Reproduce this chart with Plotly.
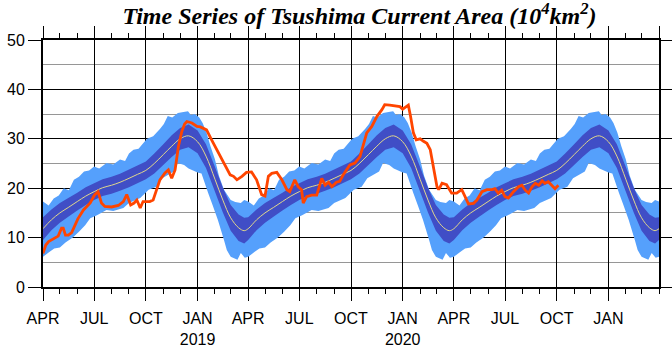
import pandas as pd
import plotly.graph_objects as go

# ---------------- data ----------------
# climatology (offset in days from 1 April), repeated each season
clim_days = [0, 15, 30, 45, 61, 76, 91, 106, 122, 137, 153, 168, 183, 198, 214, 229, 244, 259, 275, 290, 306, 320, 334, 348, 358, 365]
clim_mean = [11.8, 13.6, 15.0, 16.1, 17.3, 18.4, 19.3, 20.1, 20.6, 21.2, 22.0, 22.8, 23.6, 25.0, 26.8, 28.5, 30.0, 30.6, 29.4, 26.5, 21.8, 17.6, 14.0, 12.0, 11.4, 11.8]
clim_sd = [2.3, 2.1, 2.0, 1.9, 1.8, 1.8, 1.7, 1.7, 1.7, 1.7, 1.8, 1.8, 1.8, 2.0, 2.1, 2.2, 2.2, 2.3, 2.3, 2.4, 2.5, 2.5, 2.6, 2.7, 2.6, 2.3]

outer_up_days = [0, 10, 19, 28, 37, 46, 55, 64, 73, 82, 91, 100, 113, 125, 137, 146, 153, 161, 170, 185, 196, 208, 215, 222, 230, 240, 250, 258, 263, 270, 278, 284, 291, 298, 306, 313, 322, 334, 342, 352, 358, 365]
outer_up = [17.3, 16.5, 17.9, 18.5, 20.0, 19.6, 21.7, 22.3, 23.4, 23.6, 24.4, 24.0, 25.1, 24.8, 25.8, 25.5, 27.0, 27.8, 28.0, 30.0, 30.5, 32.0, 33.0, 34.6, 34.3, 35.2, 35.4, 35.6, 34.8, 35.0, 34.3, 33.2, 31.2, 28.5, 25.8, 22.5, 19.7, 17.6, 17.2, 17.0, 17.6, 17.3]

outer_lo_days = [0, 10, 20, 30, 40, 53, 64, 75, 84, 96, 113, 125, 143, 153, 173, 188, 202, 212, 233, 240, 251, 259, 275, 282, 294, 302, 311, 322, 327, 334, 338, 346, 352, 359, 365]
outer_lo = [6.1, 7.0, 7.8, 8.0, 9.0, 10.0, 11.2, 12.5, 13.9, 14.5, 15.6, 15.4, 16.0, 17.0, 18.0, 19.7, 20.3, 22.0, 23.4, 25.1, 24.7, 24.0, 23.2, 23.0, 19.0, 16.5, 13.6, 9.5, 7.5, 6.1, 5.9, 5.5, 6.9, 5.9, 6.1]

season_starts = ["2018-04-01", "2019-04-01", "2020-04-01"]

# observed series (offset in days from 2018-04-01)
obs_start = "2018-04-01"
obs_days = [0, 5, 10, 18, 27, 33, 36, 40, 45, 51, 57, 62, 72, 84, 92, 98, 104, 110, 122, 134, 143, 149, 156, 162, 167, 173, 178, 190, 196, 202, 208, 217, 223, 229, 235, 241, 247, 252, 256, 265, 274, 280, 285, 291, 300, 309, 315, 324, 333, 339, 345, 354, 362, 371, 380, 389, 395, 401, 407, 416, 425, 434, 439, 448, 454, 460, 463, 469, 478, 487, 496, 502, 508, 514, 522, 528, 534, 546, 555, 564, 570, 576, 585, 594, 603, 608, 617, 626, 635, 640, 647, 650, 654, 659, 664, 671, 677, 683, 689, 695, 701, 704, 710, 718, 727, 736, 745, 751, 757, 766, 772, 781, 790, 799, 804, 810, 816, 822, 828, 837, 846, 852, 858, 864, 870, 876, 882, 888, 893, 899, 905, 911, 917]
obs_vals = [6.8, 8.5, 9.2, 9.8, 10.3, 11.9, 11.9, 10.5, 10.5, 11.0, 12.6, 13.8, 15.6, 17.0, 18.7, 19.3, 17.0, 16.3, 16.2, 16.5, 17.3, 18.7, 16.6, 17.0, 17.6, 16.0, 17.3, 17.3, 17.6, 19.7, 21.7, 23.1, 23.7, 22.0, 23.7, 28.5, 31.5, 33.0, 33.5, 33.2, 32.5, 32.4, 32.2, 31.8, 29.8, 27.8, 26.4, 24.4, 22.7, 22.4, 21.7, 22.4, 23.2, 23.3, 21.7, 18.7, 18.4, 22.4, 23.0, 23.2, 21.7, 19.7, 19.3, 21.7, 20.3, 19.7, 17.0, 18.3, 18.6, 18.6, 22.0, 20.6, 21.2, 20.3, 21.2, 21.4, 22.7, 24.7, 25.1, 26.4, 29.1, 31.2, 32.5, 34.5, 35.9, 36.9, 36.8, 36.7, 36.5, 36.0, 36.7, 36.8, 34.5, 31.2, 29.8, 30.0, 29.5, 29.1, 27.8, 24.4, 20.3, 19.7, 21.0, 20.7, 19.0, 19.0, 19.7, 18.3, 16.8, 16.9, 17.6, 19.3, 19.7, 19.7, 19.9, 19.0, 19.6, 18.3, 18.0, 19.3, 20.3, 20.6, 19.6, 19.0, 20.3, 21.0, 20.6, 21.5, 21.0, 21.3, 20.6, 19.9, 20.6]

tick_dates = ["2018-04-01", "2018-07-01", "2018-10-01", "2019-01-01", "2019-04-01", "2019-07-01", "2019-10-01", "2020-01-01", "2020-04-01", "2020-07-01", "2020-10-01", "2021-01-01", "2021-04-01"]
tick_labels = ["APR", "JUL", "OCT", "JAN<br>2019", "APR", "JUL", "OCT", "JAN<br>2020", "APR", "JUL", "OCT", "JAN", ""]
x_range = ["2018-04-01", "2021-04-01"]

# ---------------- build ----------------
def season_series(days, vals):
    xs, ys = [], []
    for i, s in enumerate(season_starts):
        base = pd.Timestamp(s)
        last = (i == len(season_starts) - 1)
        for d, v in zip(days, vals):
            if d == 365 and not last:
                continue
            xs.append(base + pd.Timedelta(days=d))
            ys.append(v)
    return xs, ys

mx, my = season_series(clim_days, clim_mean)
_, sd = season_series(clim_days, clim_sd)
ux, uy = season_series(outer_up_days, outer_up)
lx, ly = season_series(outer_lo_days, outer_lo)

light = "rgb(85,160,252)"
dark = "rgb(64,78,198)"

fig = go.Figure()
fig.add_trace(go.Scatter(x=ux + lx[::-1], y=uy + ly[::-1], fill="toself", mode="none",
                         fillcolor=light, hoverinfo="skip", showlegend=False))
dup = [m + s for m, s in zip(my, sd)]
dlo = [m - s for m, s in zip(my, sd)]
fig.add_trace(go.Scatter(x=mx + mx[::-1], y=dup + dlo[::-1], fill="toself", mode="none",
                         fillcolor=dark, hoverinfo="skip", showlegend=False))
fig.add_trace(go.Scatter(x=mx, y=my, mode="lines", line=dict(color="rgb(225,215,140)", width=1),
                         line_shape="spline", showlegend=False))

ox = [pd.Timestamp(obs_start) + pd.Timedelta(days=d) for d in obs_days]
fig.add_trace(go.Scatter(x=ox, y=obs_vals, mode="lines", line=dict(color="#ff4500", width=2.8),
                         showlegend=False, xaxis="x2"))

minor_months = pd.date_range("2018-04-01", "2021-04-01", freq="MS")

tickfont = dict(family="Liberation Sans, Arial, sans-serif", size=16, color="black")
common_x = dict(type="date", range=x_range, tickmode="array", tickvals=tick_dates,
                ticks="outside", ticklen=12, tickwidth=1.2, tickcolor="black",
                showline=True, linewidth=2, linecolor="black", automargin=False,
                minor=dict(tickmode="array", tickvals=list(minor_months), ticks="outside",
                           ticklen=5, tickwidth=1.2, tickcolor="black", showgrid=False))

fig.update_layout(
    width=672, height=346,
    margin=dict(l=43, r=13, t=40, b=59),
    paper_bgcolor="white", plot_bgcolor="white",
    title=dict(text="<b><i>Time Series of Tsushima Current Area (10<sup>4</sup>km<sup>2</sup>)</i></b>",
               font=dict(family="Liberation Serif, Times New Roman, serif", size=24, color="black"),
               x=0.535, xanchor="center", y=1 - 16 / 346, yanchor="middle", yref="container"),
    xaxis=dict(**common_x, ticktext=tick_labels, tickfont=tickfont, ticklabelstandoff=4,
               showgrid=True, gridcolor="black", gridwidth=1),
    xaxis2=dict(**common_x, overlaying="x", side="top", matches="x",
                showticklabels=False, showgrid=False),
    yaxis=dict(range=[0, 50], tickmode="linear", tick0=0, dtick=10, ticks="outside", ticklen=13,
               tickwidth=1.2, tickcolor="black", showline=True, linewidth=2, linecolor="black",
               mirror="ticks", tickfont=tickfont, showgrid=True, gridcolor="black", gridwidth=1,
               zeroline=False, automargin=False,
               minor=dict(dtick=5, showgrid=True, gridcolor="rgb(150,150,150)", gridwidth=1)),
)

fig.write_html("out.html")
